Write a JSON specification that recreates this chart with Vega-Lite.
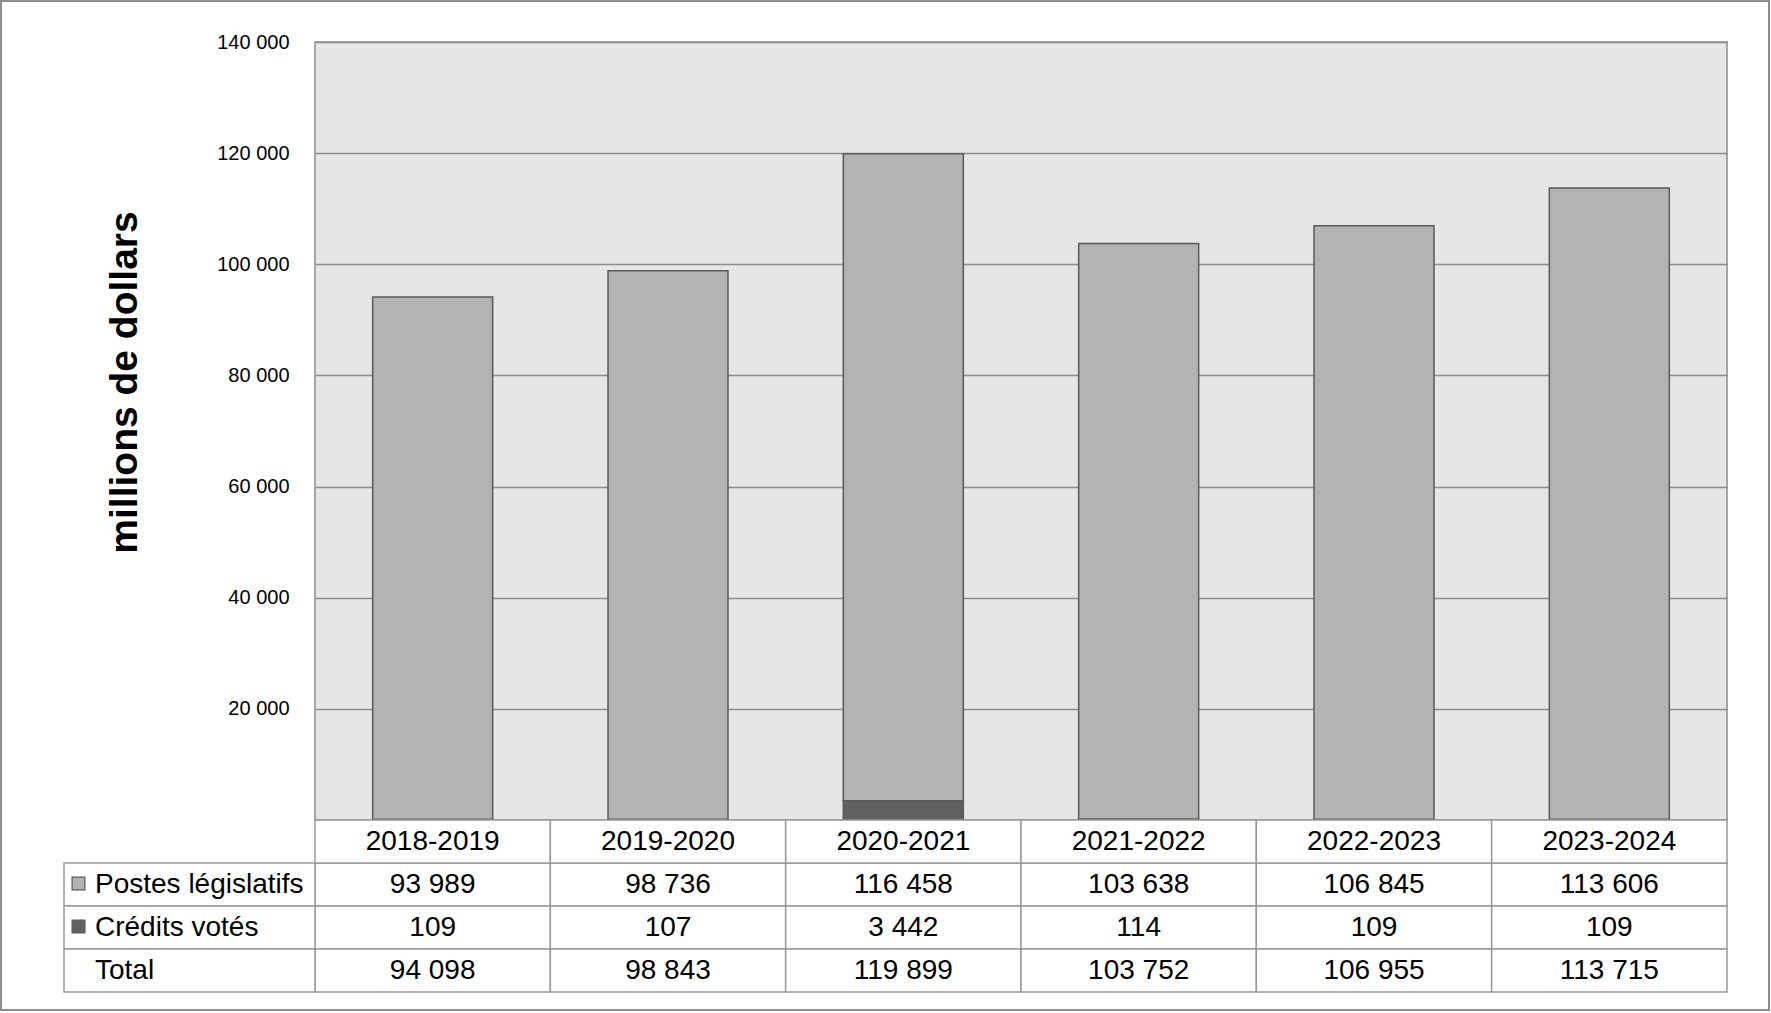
{
  "$schema": "https://vega.github.io/schema/vega-lite/v6.json",
  "width": 1412,
  "height": 778,
  "autosize": {"type": "none"},
  "padding": {"left": 315, "top": 42, "right": 44, "bottom": 193},
  "background": "white",
  "config": {
    "font": "Liberation Sans",
    "view": {"fill": "#e6e6e6", "stroke": "#8c8c8c", "strokeWidth": 1.5},
    "locale": {"number": {"decimal": ",", "thousands": " ", "grouping": [3], "currency": ["", " $"]}}
  },
  "datasets": {
    "table": [
      {"year": "2018-2019", "row": "Postes législatifs", "value": 93989},
      {"year": "2018-2019", "row": "Crédits votés", "value": 109},
      {"year": "2018-2019", "row": "Total", "value": 94098},
      {"year": "2019-2020", "row": "Postes législatifs", "value": 98736},
      {"year": "2019-2020", "row": "Crédits votés", "value": 107},
      {"year": "2019-2020", "row": "Total", "value": 98843},
      {"year": "2020-2021", "row": "Postes législatifs", "value": 116458},
      {"year": "2020-2021", "row": "Crédits votés", "value": 3442},
      {"year": "2020-2021", "row": "Total", "value": 119899},
      {"year": "2021-2022", "row": "Postes législatifs", "value": 103638},
      {"year": "2021-2022", "row": "Crédits votés", "value": 114},
      {"year": "2021-2022", "row": "Total", "value": 103752},
      {"year": "2022-2023", "row": "Postes législatifs", "value": 106845},
      {"year": "2022-2023", "row": "Crédits votés", "value": 109},
      {"year": "2022-2023", "row": "Total", "value": 106955},
      {"year": "2023-2024", "row": "Postes législatifs", "value": 113606},
      {"year": "2023-2024", "row": "Crédits votés", "value": 109},
      {"year": "2023-2024", "row": "Total", "value": 113715}
    ]
  },
  "data": {"name": "table"},
  "resolve": {"scale": {"x": "independent", "y": "independent"}},
  "layer": [
    {
      "data": {"values": [{}]},
      "mark": {"type": "rect", "fill": "transparent", "stroke": "#8c8c8c", "strokeWidth": 2},
      "encoding": {
        "x": {"datum": "cadre", "type": "nominal", "axis": null, "scale": {"domain": ["cadre"], "range": [-314, 1454], "paddingInner": 0, "paddingOuter": 0}},
        "y": {"datum": "cadre", "type": "nominal", "axis": null, "scale": {"domain": ["cadre"], "range": [-41, 968], "paddingInner": 0, "paddingOuter": 0}}
      }
    },
    {
      "transform": [{"filter": "datum.row != 'Total'"}],
      "mark": {"type": "bar", "size": 120, "stroke": "#595959", "strokeWidth": 1.5},
      "encoding": {
        "x": {"field": "year", "type": "nominal", "axis": null, "scale": {"paddingInner": 0, "paddingOuter": 0}},
        "y": {
          "field": "value", "type": "quantitative", "stack": "zero",
          "scale": {"domain": [0, 140000], "nice": false},
          "axis": {
            "values": [0, 20000, 40000, 60000, 80000, 100000, 120000, 140000],
            "format": ",d",
            "labelExpr": "datum.value == 0 ? '' : datum.label",
            "domain": false, "ticks": false,
            "labelPadding": 26, "labelFontSize": 20, "labelColor": "black",
            "grid": true, "gridColor": "#8c8c8c", "gridWidth": 1.5,
            "title": "millions de dollars",
            "titleFontSize": 39, "titleFontWeight": "bold", "titleColor": "black",
            "titleX": -191, "titleY": 340, "titleAlign": "center", "titleBaseline": "middle", "titleAngle": 270
          }
        },
        "color": {"field": "row", "type": "nominal", "scale": {"domain": ["Postes législatifs", "Crédits votés"], "range": ["#b3b3b3", "#606060"]}, "legend": null},
        "order": {"field": "row", "sort": "ascending"}
      }
    },
    {
      "mark": {"type": "rect", "fill": "white", "stroke": "#999999", "strokeWidth": 1.5},
      "encoding": {
        "x": {"field": "year", "type": "nominal", "axis": null, "scale": {"paddingInner": 0, "paddingOuter": 0}},
        "y": {"field": "row", "type": "nominal", "axis": null, "scale": {"domain": ["Année", "Postes législatifs", "Crédits votés", "Total"], "range": [778, 950], "paddingInner": 0, "paddingOuter": 0}}
      }
    },
    {
      "transform": [{"filter": "datum.row == 'Total'"}],
      "mark": {"type": "rect", "fill": "white", "stroke": "#999999", "strokeWidth": 1.5},
      "encoding": {
        "x": {"field": "year", "type": "nominal", "axis": null, "scale": {"paddingInner": 0, "paddingOuter": 0}},
        "y": {"datum": "Année", "type": "nominal", "axis": null, "scale": {"domain": ["Année", "Postes législatifs", "Crédits votés", "Total"], "range": [778, 950], "paddingInner": 0, "paddingOuter": 0}}
      }
    },
    {
      "mark": {"type": "text", "fontSize": 28, "color": "black", "baseline": "middle", "align": "center"},
      "encoding": {
        "x": {"field": "year", "type": "nominal", "axis": null, "scale": {"paddingInner": 0, "paddingOuter": 0}},
        "y": {"field": "row", "type": "nominal", "axis": null, "scale": {"domain": ["Année", "Postes législatifs", "Crédits votés", "Total"], "range": [778, 950], "paddingInner": 0, "paddingOuter": 0}},
        "text": {"field": "value", "type": "quantitative", "format": ",d"}
      }
    },
    {
      "transform": [{"filter": "datum.row == 'Total'"}],
      "mark": {"type": "text", "fontSize": 28, "color": "black", "baseline": "middle", "align": "center"},
      "encoding": {
        "x": {"field": "year", "type": "nominal", "axis": null, "scale": {"paddingInner": 0, "paddingOuter": 0}},
        "y": {"datum": "Année", "type": "nominal", "axis": null, "scale": {"domain": ["Année", "Postes législatifs", "Crédits votés", "Total"], "range": [778, 950], "paddingInner": 0, "paddingOuter": 0}},
        "text": {"field": "year", "type": "nominal"}
      }
    },
    {
      "transform": [{"filter": "datum.year == '2018-2019'"}],
      "mark": {"type": "rect", "fill": "white", "stroke": "#999999", "strokeWidth": 1.5},
      "encoding": {
        "x": {"datum": "libellé", "type": "nominal", "axis": null, "scale": {"domain": ["libellé"], "range": [-251, 0], "paddingInner": 0, "paddingOuter": 0}},
        "y": {"field": "row", "type": "nominal", "axis": null, "scale": {"domain": ["Année", "Postes législatifs", "Crédits votés", "Total"], "range": [778, 950], "paddingInner": 0, "paddingOuter": 0}}
      }
    },
    {
      "transform": [{"filter": "datum.year == '2018-2019'"}],
      "mark": {"type": "text", "fontSize": 28, "color": "black", "baseline": "middle", "align": "left", "dx": -94.5},
      "encoding": {
        "x": {"datum": "libellé", "type": "nominal", "axis": null, "scale": {"domain": ["libellé"], "range": [-251, 0], "paddingInner": 0, "paddingOuter": 0}},
        "y": {"field": "row", "type": "nominal", "axis": null, "scale": {"domain": ["Année", "Postes législatifs", "Crédits votés", "Total"], "range": [778, 950], "paddingInner": 0, "paddingOuter": 0}},
        "text": {"field": "row", "type": "nominal"}
      }
    },
    {
      "transform": [{"filter": "datum.year == '2018-2019' && datum.row != 'Total'"}],
      "mark": {"type": "point", "shape": "square", "size": 165, "filled": true, "opacity": 1, "stroke": "#595959", "strokeWidth": 1.2, "xOffset": -111, "yOffset": -1},
      "encoding": {
        "x": {"datum": "libellé", "type": "nominal", "axis": null, "scale": {"domain": ["libellé"], "range": [-251, 0], "paddingInner": 0, "paddingOuter": 0}},
        "y": {"field": "row", "type": "nominal", "axis": null, "scale": {"domain": ["Année", "Postes législatifs", "Crédits votés", "Total"], "range": [778, 950], "paddingInner": 0, "paddingOuter": 0}},
        "color": {"field": "row", "type": "nominal", "legend": null}
      }
    }
  ]
}
